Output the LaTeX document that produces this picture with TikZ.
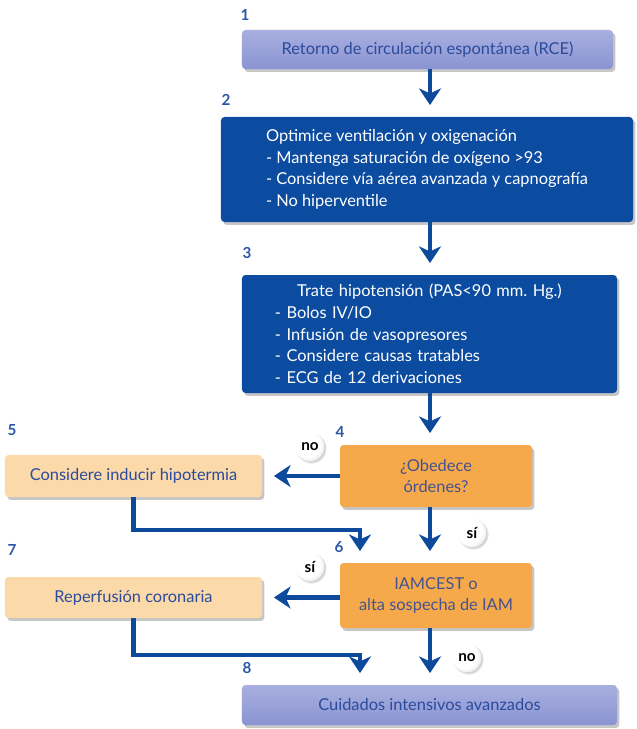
\documentclass[tikz,border=0pt]{standalone}
\usepackage{fontspec}
\setmainfont{Lato}
\usetikzlibrary{arrows.meta,positioning,calc,shadows}
\definecolor{lavender}{HTML}{8A94D2}
\definecolor{lavtop}{HTML}{A8AFE0}
\definecolor{navy}{HTML}{0C4CA0}
\definecolor{navytext}{HTML}{2B4B9B}
\definecolor{flowor}{HTML}{F6A94A}
\definecolor{asktext}{HTML}{45538F}
\definecolor{peach}{HTML}{FBD9A9}
\definecolor{numblue}{HTML}{2B57A6}
\definecolor{arrowblue}{HTML}{0D4A9C}
\pgfdeclareradialshading{answerball}{\pgfpoint{-12bp}{12bp}}{color(0bp)=(white); color(24bp)=(white); color(36bp)=(black!12); color(50bp)=(black!55)}
\tikzset{
  base/.style={rounded corners=3pt, align=center, inner sep=4pt, font=\fontsize{14}{18.5}\selectfont, drop shadow={shadow xshift=2pt, shadow yshift=-2.5pt, opacity=0.45}},
  lightbox/.style={base, top color=lavtop, bottom color=lavender, text=navytext},
  darkbox/.style={base, fill=navy, text=white},
  askbox/.style={base, fill=flowor, text=asktext},
  actbox/.style={base, fill=peach, text=navytext},
  arrow/.style={-{Stealth[length=5mm,width=6.6mm,inset=1.5mm]}, line width=4.2pt, draw=arrowblue, shorten >=3.5mm},
  stepnum/.style={text=numblue, font=\fontsize{13}{13}\selectfont\bfseries},
  answer/.style={circle, shading=answerball, inner sep=0pt, minimum size=0.85cm, font=\fontsize{13}{13}\selectfont\bfseries, circular drop shadow={shadow xshift=1pt, shadow yshift=-1pt, opacity=0.35}}
}
\begin{document}
\begin{tikzpicture}[x=0.03cm,y=-0.03cm]
\useasboundingbox (0,0) rectangle (636,729);

% boxes
\node[lightbox, minimum width=11.13cm, minimum height=1.17cm] (rce) at (427.5,49.5) {Retorno de circulación espontánea (RCE)};
\node[darkbox, minimum width=12.36cm, minimum height=3.15cm, align=left] (vent) at (427,169.5) {Optimice ventilación y oxigenación\\- Mantenga saturación de oxígeno >93\\- Considere vía aérea avanzada y capnografía\\- No hiperventile};
\node[darkbox, minimum width=11.25cm, minimum height=3.54cm, text width=9.27cm, align=left] (hipo) at (429.5,334) {\makebox[9.27cm]{Trate hipotensión (PAS<90 mm.\ Hg.)}\\- Bolos IV/IO\\- Infusión de vasopresores\\- Considere causas tratables\\- ECG de 12 derivaciones};
\node[askbox, minimum width=5.76cm, minimum height=1.86cm] (obey) at (436,476) {¿Obedece\\órdenes?};
\node[askbox, minimum width=5.76cm, minimum height=1.95cm] (iam) at (436,595.5) {IAMCEST o\\alta sospecha de IAM};
\node[actbox, minimum width=7.71cm, minimum height=1.26cm] (hypo) at (133.5,476) {Considere inducir hipotermia};
\node[actbox, minimum width=7.71cm, minimum height=1.23cm] (reperf) at (133.5,597.5) {Reperfusión coronaria};
\node[lightbox, minimum width=11.25cm, minimum height=1.2cm] (icu) at (429.5,705) {Cuidados intensivos avanzados};

% step numbers
\node[stepnum] (n1) at (245,15) {1};
\node[stepnum] (n2) at (226,100) {2};
\node[stepnum] (n3) at (247,253) {3};
\node[stepnum] (n4) at (340,432) {4};
\node[stepnum] (n5) at (12,430) {5};
\node[stepnum] (n6) at (339,547) {6};
\node[stepnum] (n7) at (12,550) {7};
\node[stepnum] (n8) at (247,668) {8};

% connectors
\coordinate (axis) at (430,0);
\coordinate (bend6) at (360,530);
\coordinate (bend8) at (360,655);
\draw[arrow] (rce.south -| axis) -- (vent.north -| axis);
\draw[arrow] (vent.south -| axis) -- (hipo.north -| axis);
\draw[arrow] (hipo.south -| axis) -- (obey.north -| axis);
\draw[arrow] (obey.south -| axis) -- (iam.north -| axis);
\draw[arrow] (iam.south -| axis) -- (icu.north -| axis);
\draw[arrow] (obey.west) -- (hypo.east);
\draw[arrow] (iam.west |- reperf) -- (reperf.east);
\draw[arrow] (hypo.south) |- (bend6) -- (bend6 |- iam.north);
\draw[arrow] (reperf.south) |- (bend8) -- (bend8 |- icu.north);

% answers
\node[answer] (no4) at (310,447) {no};
\node[answer] (si4) at (472,533) {sí};
\node[answer] (si6) at (310,567) {sí};
\node[answer] (no6) at (467,658) {no};
\end{tikzpicture}
\end{document}
